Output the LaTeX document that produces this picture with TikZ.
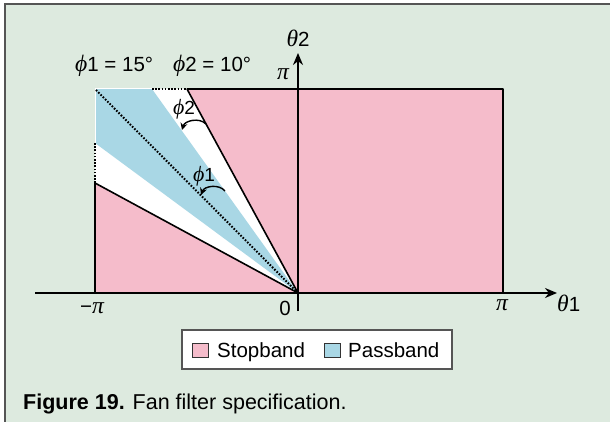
\documentclass[tikz,border=0pt]{standalone}
\usepackage{fontspec}
\setmainfont{Liberation Sans}
\newfontfamily\greekfont[Scale=1.15]{Liberation Serif}
\usetikzlibrary{arrows.meta}
\definecolor{panelBg}{HTML}{DDEADF}
\definecolor{frameGray}{HTML}{555555}
\definecolor{stopPink}{HTML}{F5BCCB}
\definecolor{passBlue}{HTML}{A9D7E5}
\newcommand{\gk}[1]{{\greekfont\itshape #1}}

\begin{document}
\begin{tikzpicture}[x=1pt, y=-1pt,
        bandEdge/.style={black, line width=1.6pt, line join=bevel},
        bandDots/.style={black, line width=2pt, dash pattern=on 1.6pt off 1.6pt},
        axisLine/.style={black, line width=1.5pt, -{Stealth[length=12pt,width=10pt]}},
        angleArc/.style={black, line width=1.4pt, -{Stealth[length=7pt,width=7pt]}},
        figLabel/.style={font=\fontsize{20.5}{24}\selectfont, inner sep=0pt},
        swatch/.style={draw=black!80, line width=0.8pt, minimum width=16pt, minimum height=14pt, inner sep=0pt}
    ]
        \useasboundingbox (0,0) rectangle (610,422);
        % Panel
        \fill[white] (0,0) rectangle (610,422);
        \fill[panelBg] (5,4) rectangle (610,422);
        \draw[frameGray, line width=1.5pt] (5,422) -- (5,4) -- (610,4);

        % Corners of the band plane
        \coordinate (O) at (298,293);
        \coordinate (BL) at (95,293);
        \coordinate (TL) at (95,89);
        \coordinate (TR) at (503,89);
        \coordinate (BR) at (503,293);
        \coordinate (stopTop) at (187,89);
        \coordinate (stopSide) at (95,183);
        \coordinate (passTop) at (152,89);
        \coordinate (passSide) at (95,143);

        % Bands
        \fill[stopPink] (BL) rectangle (TR);
        \fill[white] (O) -- (stopSide) -- (TL) -- (stopTop) -- cycle;
        \fill[passBlue] (O) -- (passSide) -- (TL) -- (passTop) -- cycle;
        \draw[white, line width=1pt] (passSide) -- (TL) -- (passTop);
        \draw[bandEdge] (BL) -- (stopSide) -- (O) -- (stopTop) -- (TR) -- (BR);
        \draw[bandDots] (O) -- (TL);
        \draw[bandDots] (passTop) -- (stopTop);
        \draw[bandDots] (passSide) -- (stopSide);

        % Axes
        \coordinate (hStart) at (35,293);
        \coordinate (hEnd) at (557,293);
        \coordinate (vStart) at (298,311);
        \coordinate (vEnd) at (298,53);
        \draw[axisLine] (hStart) -- (hEnd);
        \draw[axisLine] (vStart) -- (vEnd);

        % Angle arcs
        \coordinate (arcTwoA) at (206,124);
        \coordinate (arcTwoB) at (182,130);
        \coordinate (arcOneA) at (225,191);
        \coordinate (arcOneB) at (201,195);
        \draw[angleArc] (arcTwoA) to[bend right=60] (arcTwoB);
        \draw[angleArc] (arcOneA) to[bend right=60] (arcOneB);

        % Labels
        \node[figLabel, anchor=base west] (phiOneVal) at (75,72) {\gk{ϕ}1 = 15°};
        \node[figLabel, anchor=base west] (phiTwoVal) at (173,72) {\gk{ϕ}2 = 10°};
        \node[figLabel, anchor=base] (thetaTwo) at (298,47) {\gk{θ}2};
        \node[figLabel, anchor=base west] (thetaOne) at (557,311) {\gk{θ}1};
        \node[figLabel, anchor=base] (piTop) at (283,80) {\gk{π}};
        \node[figLabel, anchor=base] (piRight) at (502,310) {\gk{π}};
        \node[figLabel, anchor=base] (piLeft) at (92,313) {−\gk{π}};
        \node[figLabel, anchor=base] (zero) at (285,315) {0};
        \node[figLabel, font=\fontsize{19}{22}\selectfont, anchor=base] (phiTwo) at (184,115) {\gk{ϕ}2};
        \node[figLabel, font=\fontsize{19}{22}\selectfont, anchor=base] (phiOne) at (204,182) {\gk{ϕ}1};

        % Legend
        \node[draw=frameGray, line width=1.3pt, fill=white, minimum width=270pt, minimum height=39pt, inner sep=0pt] (legend) at (317,349.5) {};
        \node[swatch, fill=stopPink] (stopKey) at (200,350) {};
        \node[figLabel, anchor=base west] (stopText) at (217,357) {Stopband};
        \node[swatch, fill=passBlue] (passKey) at (332,350) {};
        \node[figLabel, anchor=base west] (passText) at (348,357) {Passband};

        % Caption
        \node[figLabel, font=\fontsize{21.5}{25}\selectfont, anchor=base west] (caption) at (23,409) {\textbf{Figure 19.} Fan filter specification.};
    \end{tikzpicture}
\end{document}
